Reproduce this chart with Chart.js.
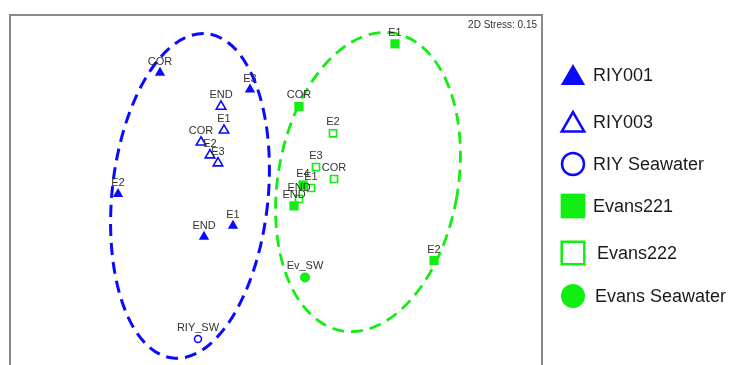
<!DOCTYPE html>
<html>
<head>
<meta charset="utf-8">
<script src="https://cdn.jsdelivr.net/npm/chart.js@4/dist/chart.umd.min.js"></script>
<style>
  html, body { margin: 0; padding: 0; background: #fff; overflow: hidden; }
  #wrap { width: 729px; height: 375px; }
</style>
</head>
<body>
<div id="wrap"><canvas id="c" width="729" height="375"></canvas></div>
<script>
// NMDS ordination coordinates (axis 1, axis 2) per sample group
const riy001Labels = ['COR', 'E3', 'E2', 'END', 'E1'];
const riy001X = [-1.16, -0.26, -1.58, -0.72, -0.43];
const riy001Y = [1.17, 1.00, -0.05, -0.48, -0.37];

const riy003Labels = ['END', 'E1', 'COR', 'E2', 'E3'];
const riy003X = [-0.55, -0.52, -0.75, -0.66, -0.58];
const riy003Y = [0.83, 0.59, 0.47, 0.34, 0.26];

const riySwLabels = ['RIY_SW'];
const riySwX = [-0.78];
const riySwY = [-1.51];

const evans221Labels = ['E1', 'COR', 'E4', 'END', 'E2'];
const evans221X = [1.19, 0.23, 0.27, 0.18, 1.58];
const evans221Y = [1.46, 0.83, 0.04, -0.17, -0.72];

const evans222Labels = ['E2', 'E3', 'COR', 'E1', 'END'];
const evans222X = [0.57, 0.40, 0.58, 0.35, 0.23];
const evans222Y = [0.56, 0.22, 0.10, 0.01, -0.10];

const evansSwLabels = ['Ev_SW'];
const evansSwX = [0.29];
const evansSwY = [-0.89];

// Group ellipses: centre x, centre y, half-length along axis 2, half-width, tilt (deg)
const riyEllipse = [-0.86, -0.07, 1.64, 0.78, 6];
const evansEllipse = [0.92, 0.07, 1.52, 0.90, 10];

const stressText = '2D Stress: 0.15';

const BLUE = '#0a0aff';
const GREEN = '#11ee11';

function pts(xs, ys) { return xs.map((x, i) => ({ x: x, y: ys[i] })); }

const series = [
  { name: 'RIY001', labels: riy001Labels, data: pts(riy001X, riy001Y), style: 'triangle', color: BLUE, filled: true, r: 6 },
  { name: 'RIY003', labels: riy003Labels, data: pts(riy003X, riy003Y), style: 'triangle', color: BLUE, filled: false, r: 5.5 },
  { name: 'RIY Seawater', labels: riySwLabels, data: pts(riySwX, riySwY), style: 'circle', color: BLUE, filled: false, r: 3.5 },
  { name: 'Evans221', labels: evans221Labels, data: pts(evans221X, evans221Y), style: 'rect', color: GREEN, filled: true, r: 6.5 },
  { name: 'Evans222', labels: evans222Labels, data: pts(evans222X, evans222Y), style: 'rect', color: GREEN, filled: false, r: 5 },
  { name: 'Evans Seawater', labels: evansSwLabels, data: pts(evansSwX, evansSwY), style: 'circle', color: GREEN, filled: true, r: 5 }
];

const datasets = series.map(s => ({
  label: s.name,
  data: s.data,
  pointStyle: s.style,
  pointRadius: s.r,
  pointHoverRadius: s.r,
  pointBackgroundColor: s.filled ? s.color : '#ffffff',
  pointBorderColor: s.color,
  pointBorderWidth: s.filled ? 0 : 1.6,
  showLine: false,
  pointLabels: s.labels
}));

// Frame + group ellipses behind the points
const backdrop = {
  id: 'backdrop',
  beforeDatasetsDraw(chart) {
    const { ctx, chartArea: a, scales: { x, y } } = chart;
    ctx.save();
    ctx.strokeStyle = '#8a8a8a';
    ctx.lineWidth = 2;
    ctx.strokeRect(a.left, a.top, a.right - a.left, a.bottom - a.top);

    const drawEllipse = (e, color, lw) => {
      const cx = x.getPixelForValue(e[0]);
      const cy = y.getPixelForValue(e[1]);
      const ry = Math.abs(y.getPixelForValue(e[1] + e[2]) - cy);
      const rx = Math.abs(x.getPixelForValue(e[0] + e[3]) - cx);
      ctx.beginPath();
      ctx.strokeStyle = color;
      ctx.lineWidth = lw;
      ctx.setLineDash([12, 7]);
      ctx.ellipse(cx, cy, rx, ry, e[4] * Math.PI / 180, 0, Math.PI * 2);
      ctx.stroke();
    };
    drawEllipse(riyEllipse, BLUE, 3);
    drawEllipse(evansEllipse, GREEN, 2.8);
    ctx.restore();
  }
};

// Sample names above each point, stress value, and the key on the right
const annotations = {
  id: 'annotations',
  afterDatasetsDraw(chart) {
    const { ctx, chartArea: a } = chart;
    ctx.save();
    ctx.font = '11px "Liberation Sans", Arial, sans-serif';
    ctx.fillStyle = '#333333';
    ctx.textAlign = 'center';
    ctx.textBaseline = 'alphabetic';
    chart.data.datasets.forEach((ds, i) => {
      chart.getDatasetMeta(i).data.forEach((el, j) => {
        ctx.fillText(ds.pointLabels[j], el.x, el.y - 8);
      });
    });

    ctx.font = '10px "Liberation Sans", Arial, sans-serif';
    ctx.textAlign = 'right';
    ctx.textBaseline = 'middle';
    ctx.fillText(stressText, a.right - 5, a.top + 10);

    // key
    const rows = [
      { y: 75, tx: 593, r: 14 },
      { y: 122, tx: 593, r: 13 },
      { y: 164, tx: 593, r: 11 },
      { y: 206, tx: 593, r: 17.5 },
      { y: 253, tx: 597, r: 16 },
      { y: 296, tx: 595, r: 12 }
    ];
    series.forEach((s, i) => {
      const row = rows[i];
      const yy = s.style === 'triangle' ? row.y + 3 : row.y;
      ctx.fillStyle = s.filled ? s.color : '#ffffff';
      ctx.strokeStyle = s.color;
      ctx.lineWidth = s.filled ? 0 : 2.5;
      Chart.helpers.drawPoint(ctx, {
        pointStyle: s.style, radius: row.r, rotation: 0,
        borderWidth: s.filled ? 0 : 2.5
      }, 573, yy);
      ctx.fillStyle = '#1a1a1a';
      ctx.font = '18px "Liberation Sans", Arial, sans-serif';
      ctx.textAlign = 'left';
      ctx.textBaseline = 'middle';
      ctx.fillText(s.name, row.tx, row.y + 1);
    });
    ctx.restore();
  }
};

new Chart(document.getElementById('c'), {
  type: 'scatter',
  data: { datasets: datasets },
  options: {
    responsive: false,
    animation: false,
    layout: { padding: { left: 10, top: 15, right: 187, bottom: 5 } },
    scales: {
      x: { type: 'linear', min: -2.66, max: 2.66, display: false },
      y: { type: 'linear', min: -1.80, max: 1.75, display: false }
    },
    plugins: {
      legend: { display: false },
      tooltip: { enabled: false }
    }
  },
  plugins: [backdrop, annotations]
});
</script>
</body>
</html>
